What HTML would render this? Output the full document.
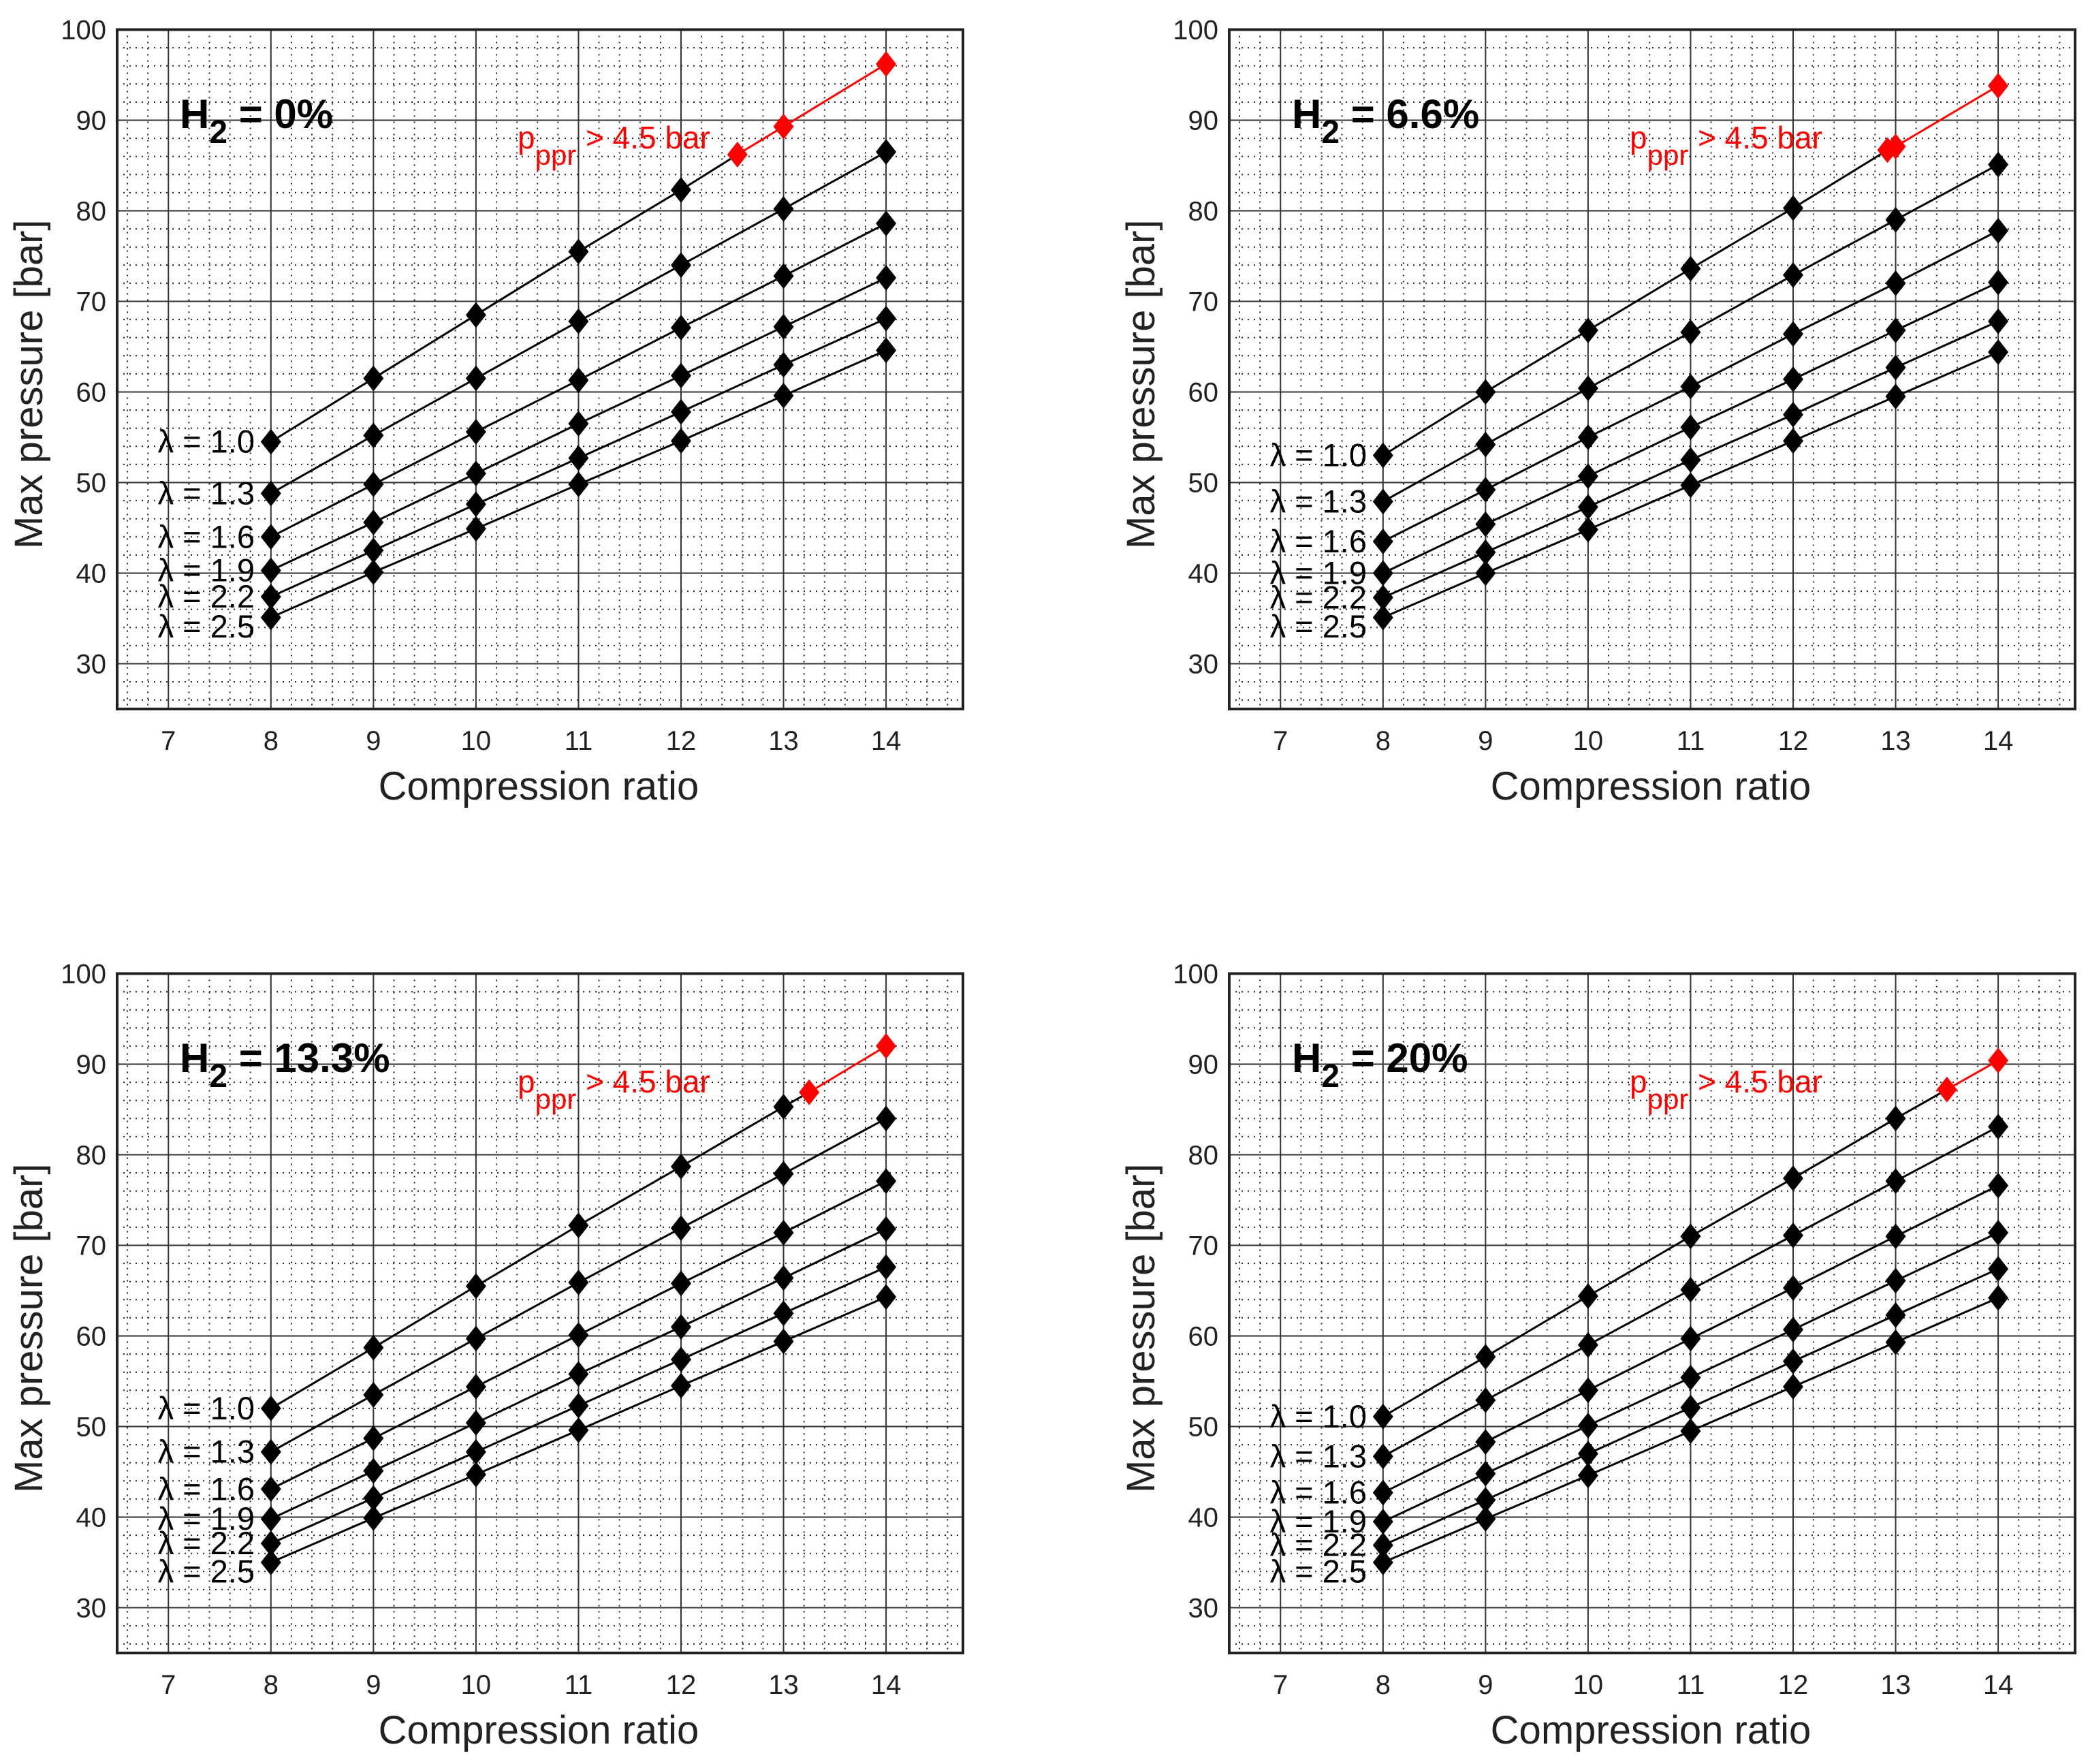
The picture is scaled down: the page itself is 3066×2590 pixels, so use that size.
<!DOCTYPE html>
<html><head><meta charset="utf-8"><style>
html,body{margin:0;padding:0;background:#fff;}
svg{display:block;font-family:"Liberation Sans",Arial,sans-serif;}
</style></head><body>
<svg id="chart" width="3066" height="2590" viewBox="0 0 3066 2590" xmlns="http://www.w3.org/2000/svg"></svg>
<script>
const compressionRatios=[8,9,10,11,12,13,14];
const lambdaLabels=["1.0","1.3","1.6","1.9","2.2","2.5"];
const xTicks=[7,8,9,10,11,12,13,14];
const yTicks=[30,40,50,60,70,80,90,100];
const panelTitles=["0%","6.6%","13.3%","20%"];
// panel 1 (H2 = 0%)
const p1Series=[[54.5,61.5,68.5,75.5,82.3,null,null],[48.8,55.2,61.5,67.8,74.0,80.2,86.5],[44.0,49.8,55.6,61.3,67.1,72.8,78.6],[40.3,45.6,51.0,56.5,61.8,67.2,72.6],[37.4,42.5,47.6,52.7,57.8,63.0,68.1],[35.1,40.1,44.9,49.8,54.6,59.6,64.6]];
const p1RedX=[12.55,13,14];
const p1RedY=[86.2,89.3,96.2];
// panel 2 (H2 = 6.6%)
const p2Series=[[53.0,60.0,66.8,73.6,80.3,null,null],[47.9,54.2,60.4,66.6,72.9,79.0,85.1],[43.5,49.2,55.0,60.6,66.4,72.0,77.8],[40.0,45.4,50.7,56.1,61.4,66.8,72.1],[37.3,42.3,47.3,52.5,57.5,62.7,67.8],[35.1,40.0,44.8,49.7,54.6,59.5,64.4]];
const p2RedX=[12.92,13,14];
const p2RedY=[86.7,87.1,93.8];
// panel 3 (H2 = 13.3%)
const p3Series=[[52.0,58.7,65.5,72.2,78.7,85.3,null],[47.2,53.5,59.7,65.9,71.9,77.9,84.0],[43.1,48.7,54.4,60.1,65.8,71.4,77.1],[39.8,45.1,50.4,55.8,61.0,66.4,71.8],[37.1,42.1,47.2,52.3,57.4,62.5,67.6],[35.0,39.9,44.7,49.6,54.5,59.4,64.3]];
const p3RedX=[13.25,14];
const p3RedY=[86.9,92.0];
// panel 4 (H2 = 20%)
const p4Series=[[51.1,57.7,64.4,71.0,77.4,84.0,null],[46.7,52.9,59.0,65.1,71.1,77.1,83.1],[42.7,48.3,54.0,59.7,65.3,71.0,76.6],[39.5,44.8,50.1,55.4,60.7,66.1,71.4],[36.9,41.9,47.0,52.1,57.2,62.3,67.4],[35.0,39.8,44.6,49.5,54.4,59.3,64.2]];
const p4RedX=[13.5,14];
const p4RedY=[87.2,90.4];

const allSeries=[p1Series,p2Series,p3Series,p4Series];
const allRedX=[p1RedX,p2RedX,p3RedX,p4RedX];
const allRedY=[p1RedY,p2RedY,p3RedY,p4RedY];

const NS="http://www.w3.org/2000/svg";
const svg=document.getElementById('chart');
function mk(tag,attrs,parent,text){const e=document.createElementNS(NS,tag);for(const k in attrs)e.setAttribute(k,attrs[k]);if(text!==undefined)e.textContent=text;parent.appendChild(e);return e;}

const X0=6.5,X1=14.75,Y0=25,Y1=100;
const offsets=[[0,0],[1633,0],[0,1386],[1633,1386]];
function drawPanel(i){
  const ox=offsets[i][0],oy=offsets[i][1];
  const L=172+ox,R=1414+ox,T=43.5+oy,B=1041+oy;
  const sx=v=>L+(v-X0)/(X1-X0)*(R-L);
  const sy=v=>B-(v-Y0)/(Y1-Y0)*(B-T);
  const g=mk('g',{},svg);
  
  
  const mg=mk('g',{stroke:'#222','stroke-width':2,'stroke-dasharray':'2 7'},g);
  
  
  for(let k=Math.ceil(X0*5);k<=Math.floor(X1*5);k++){const v=k/5;if(Math.abs(v-Math.round(v))<1e-6)continue;mk('line',{x1:sx(v),x2:sx(v),y1:T,y2:B},mg);}
  for(let v=26;v<100;v+=2){if(v%10===0)continue;mk('line',{x1:L,x2:R,y1:sy(v),y2:sy(v)},mg);}
  const jg=mk('g',{stroke:'#333','stroke-width':2},g);
  
  
  xTicks.forEach(v=>mk('line',{x1:sx(v),x2:sx(v),y1:T,y2:B},jg));
  yTicks.forEach(v=>mk('line',{x1:L,x2:R,y1:sy(v),y2:sy(v)},jg));
  const box=mk('rect',{x:L,y:T,width:R-L,height:B-T,fill:'none',stroke:'#222','stroke-width':4},g);
  
  
  xTicks.forEach(v=>{const t=mk('text',{x:sx(v),y:B+60,'font-size':40,fill:'#222','text-anchor':'middle'},g,String(v));
    
    });
  yTicks.forEach(v=>{const t=mk('text',{x:L-16,y:sy(v)+14,'font-size':40,fill:'#222','text-anchor':'end'},g,String(v));
    
    });
  const xt=mk('text',{x:(L+R)/2-2,y:B+133,'font-size':58,fill:'#222','text-anchor':'middle'},g,'Compression ratio');
  
  
  const yx=ox+62,yy=(T+B)/2+22;
  const yt=mk('text',{x:yx,y:yy,'font-size':58,fill:'#222','text-anchor':'middle',transform:`rotate(-90 ${yx} ${yy})`},g,'Max pressure [bar]');
  
  
  const series=allSeries[i],rx=allRedX[i],ry=allRedY[i];
  const dia=(x,y,c,par)=>mk('polygon',{points:`${x},${y-19} ${x+15},${y} ${x},${y+19} ${x-15},${y}`,fill:c},par);
  series.forEach((s,j)=>{
    const sg=mk('g',{},g);
    
    
    const pts=[];
    s.forEach((v,k)=>{if(v!==null)pts.push([sx(compressionRatios[k]),sy(v)]);});
    if(j===0)pts.push([sx(rx[0]),sy(ry[0])]);
    mk('polyline',{points:pts.map(p=>p.join(',')).join(' '),fill:'none',stroke:'#000','stroke-width':3},sg);
    s.forEach((v,k)=>{if(v===null)return;const m=dia(sx(compressionRatios[k]),sy(v),'#000',sg);
      
      });
    const lt=mk('text',{x:L+202,y:sy(s[0]+(j===5?-1:0))+16,'font-size':47,fill:'#000','text-anchor':'end'},g,'\u03bb = '+lambdaLabels[j]);
    
    
  });
  const rg=mk('g',{},g);
  
  
  mk('polyline',{points:rx.map((v,k)=>sx(v)+','+sy(ry[k])).join(' '),fill:'none',stroke:'#f00','stroke-width':3},rg);
  rx.forEach((v,k)=>{const m=dia(sx(v),sy(ry[k]),'#f00',rg);
    
    });
  const h=mk('text',{x:ox+264,y:oy+188,'font-size':60,'font-weight':'bold',fill:'#000'},g);
  
  
  mk('tspan',{},h,'H');
  mk('tspan',{dy:22,'font-size':48},h,'2');
  mk('tspan',{dy:-22},h,' = '+panelTitles[i]);
  const pp=mk('text',{x:ox+760,y:oy+218,'font-size':46,fill:'#f00'},g);
  
  
  mk('tspan',{},pp,'p');
  mk('tspan',{dy:24,'font-size':42},pp,'ppr');
  mk('tspan',{dy:-24,x:ox+860},pp,'> 4.5 bar');
}
for(let i=0;i<4;i++)drawPanel(i);
</script>
</body></html>
